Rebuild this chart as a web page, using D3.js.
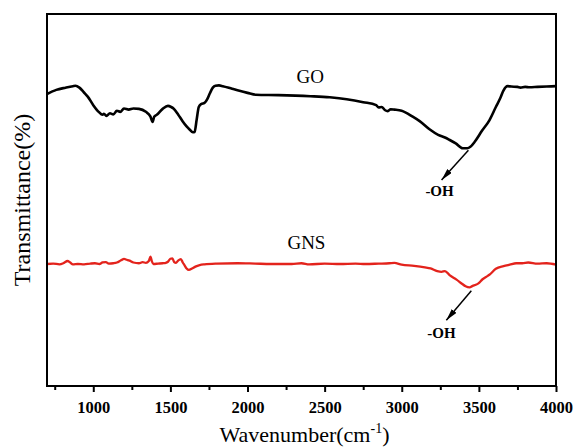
<!DOCTYPE html>
<meta charset="utf-8">
<title>FTIR GO / GNS</title>
<style>
  body { margin: 0; background: #fff; }
  text { font-family: "Liberation Serif", "Times New Roman", serif; }
</style>
<body>
<script src="https://d3js.org/d3.v7.min.js"></script>
<div id="chart"></div>
<script>
// wavenumber (cm-1) and transmittance (arbitrary %)
var goWave = [700,760,820,868,885,910,940,964,1000,1035,1060,1069,1085,1108,1130,1153,1175,1199,1230,1260,1296,1341,1370,1385,1395,1412,1450,1484,1505,1520,1550,1579,1605,1626,1645,1657,1670,1684,1700,1721,1740,1756,1775,1792,1815,1840,1900,1935,2000,2054,2200,2408,2533,2643,2750,2834,2850,2870,2890,2910,2928,2952,2999,3071,3116,3180,3236,3280,3308,3350,3395,3425,3445,3472,3520,3569,3610,3639,3660,3686,3710,3750,3770,3800,3829,3880,3940,4000];
var goValue = [78.5,79.6,80.2,80.6,80.7,80.2,78.9,77.8,75.5,73.7,72.9,73.2,72.6,73.3,73.0,74.0,73.7,74.6,74.3,74.6,74.5,73.7,72.5,71.0,72.4,72.9,74.5,75.3,75.0,74.6,73.0,71.2,69.8,68.9,68.2,68.3,71.5,75.0,75.8,76.1,77.2,78.7,80.2,80.7,80.8,80.6,79.9,79.5,78.8,78.3,78.2,77.9,77.6,77.1,76.3,75.5,74.9,75.0,74.2,73.9,74.4,74.3,74.0,72.4,71.2,69.0,67.5,66.8,66.2,65.2,63.9,63.9,64.3,65.6,68.6,71.5,75.0,77.4,79.5,80.6,80.5,80.4,80.2,80.4,80.3,80.4,80.5,80.6];

var gnsWave = [700,740,780,810,833,850,868,900,940,980,1011,1040,1060,1082,1100,1130,1153,1180,1200,1212,1235,1260,1296,1320,1341,1360,1371,1380,1390,1420,1450,1470,1484,1500,1513,1525,1536,1550,1568,1580,1591,1605,1620,1640,1662,1690,1721,1800,1935,2050,2150,2287,2350,2400,2500,2600,2700,2763,2850,2920,2952,2999,3080,3150,3187,3230,3258,3280,3310,3355,3390,3414,3440,3460,3480,3497,3524,3550,3568,3610,3660,3700,3742,3781,3820,3880,3940,4000];
var gnsValue = [32.8,32.9,32.7,33.1,33.6,33.2,32.7,32.8,32.7,32.9,33.0,32.8,33.2,33.3,32.9,33.0,33.2,33.8,34.2,34.0,33.7,33.2,33.0,33.3,33.1,33.6,34.8,33.5,32.8,32.9,33.0,33.1,33.4,34.2,34.3,33.3,33.1,33.7,34.1,33.2,32.5,31.6,31.2,31.6,32.1,32.5,32.7,32.9,33.0,32.9,32.8,32.8,33.0,32.7,32.9,32.8,32.9,32.8,32.9,33.0,33.1,32.6,32.3,31.9,31.6,30.9,30.7,30.9,29.8,28.6,27.5,26.8,26.5,26.9,27.2,27.6,28.7,29.4,29.9,31.5,32.2,32.6,33.0,33.0,33.2,32.9,33.0,32.6];

var xTicks = [1000,1500,2000,2500,3000,3500,4000];
var xMinorTicks = [750,1250,1750,2250,2750,3250,3750];

// series labels and -OH arrows, in data units
var seriesLabels = [
  {text: "GO",  x: 2406, y: 83.3},
  {text: "GNS", x: 2382, y: 38.7}
];
var arrows = [
  {x1: 3432, y1: 63.4, x2: 3258, y2: 55.4, lx: 3245, ly: 52.4},
  {x1: 3451, y1: 25.6, x2: 3289, y2: 17.7, lx: 3257, ly: 14.4}
];

var W = 573, H = 448;
var margin = {top: 14, right: 17, bottom: 62, left: 47};
var width = W - margin.left - margin.right,
    height = H - margin.top - margin.bottom;

var svg = d3.select("#chart").append("svg")
    .attr("width", W).attr("height", H)
  .append("g")
    .attr("transform", "translate(" + margin.left + "," + margin.top + ")");

var x = d3.scaleLinear().domain([700, 4000]).range([0, width]);
var y = d3.scaleLinear().domain([0, 100]).range([height, 0]);

var defs = svg.append("defs");
defs.append("marker")
    .attr("id", "head")
    .attr("viewBox", "0 0 12 6")
    .attr("refX", 12).attr("refY", 3)
    .attr("markerWidth", 12).attr("markerHeight", 6)
    .attr("markerUnits", "userSpaceOnUse")
    .attr("orient", "auto")
  .append("path")
    .attr("d", "M0,0L12,3L0,6Z")
    .attr("fill", "#000");

// x axis, major + minor ticks
svg.append("g")
    .attr("transform", "translate(0," + height + ")")
    .call(d3.axisBottom(x).tickValues(xTicks).tickFormat(d3.format("d"))
      .tickSize(6).tickSizeOuter(0).tickPadding(9))
    .call(function(g) {
      g.select(".domain").remove();
      g.selectAll("line").attr("stroke-width", 2);
      g.selectAll("text")
        .style("font-family", "'Liberation Serif', serif")
        .style("font-size", "16.5px").style("font-weight", "bold");
    });
svg.append("g")
    .attr("transform", "translate(0," + height + ")")
    .call(d3.axisBottom(x).tickValues(xMinorTicks).tickSize(4).tickSizeOuter(0).tickFormat(""))
    .call(function(g) {
      g.select(".domain").remove();
      g.selectAll("line").attr("stroke-width", 2);
    });

var line = d3.line()
    .x(function(d) { return x(d[0]); })
    .y(function(d) { return y(d[1]); })
    .curve(d3.curveMonotoneX);

svg.append("path")
    .datum(d3.zip(goWave, goValue))
    .attr("fill", "none").attr("stroke", "#000").attr("stroke-width", 2.6)
    .attr("stroke-linejoin", "round")
    .attr("d", line);

svg.append("path")
    .datum(d3.zip(gnsWave, gnsValue))
    .attr("fill", "none").attr("stroke", "#e3231c").attr("stroke-width", 2.3)
    .attr("stroke-linejoin", "round")
    .attr("d", line);

svg.selectAll(".slabel")
    .data(seriesLabels)
  .enter().append("text")
    .attr("x", function(d) { return x(d.x); })
    .attr("y", function(d) { return y(d.y); })
    .attr("dy", "0.35em")
    .attr("text-anchor", "middle")
    .attr("font-size", 19)
    .text(function(d) { return d.text; });

svg.selectAll(".arrow")
    .data(arrows)
  .enter().append("line")
    .attr("x1", function(d) { return x(d.x1); })
    .attr("y1", function(d) { return y(d.y1); })
    .attr("x2", function(d) { return x(d.x2); })
    .attr("y2", function(d) { return y(d.y2); })
    .attr("stroke", "#000").attr("stroke-width", 1.5)
    .attr("marker-end", "url(#head)");

svg.selectAll(".ohlabel")
    .data(arrows)
  .enter().append("text")
    .attr("x", function(d) { return x(d.lx); })
    .attr("y", function(d) { return y(d.ly); })
    .attr("dy", "0.35em")
    .attr("text-anchor", "middle")
    .attr("font-size", 15).attr("font-weight", "bold")
    .text("-OH");

// frame
svg.append("rect")
    .attr("width", width).attr("height", height)
    .attr("fill", "none").attr("stroke", "#000").attr("stroke-width", 2);

// axis titles
var xt = svg.append("text")
    .attr("x", width / 2 + 3).attr("y", height + 56)
    .attr("text-anchor", "middle").attr("font-size", 22);
xt.append("tspan").text("Wavenumber(cm");
xt.append("tspan").attr("font-size", 14).attr("dy", -9).text("-1");
xt.append("tspan").attr("dy", 9).text(")");

svg.append("text")
    .attr("transform", "translate(" + (-25) + "," + (height / 2) + ") rotate(-90)")
    .attr("text-anchor", "middle").attr("font-size", 24)
    .attr("dy", "0.35em")
    .text("Transmittance(%)");
</script>
</body>
